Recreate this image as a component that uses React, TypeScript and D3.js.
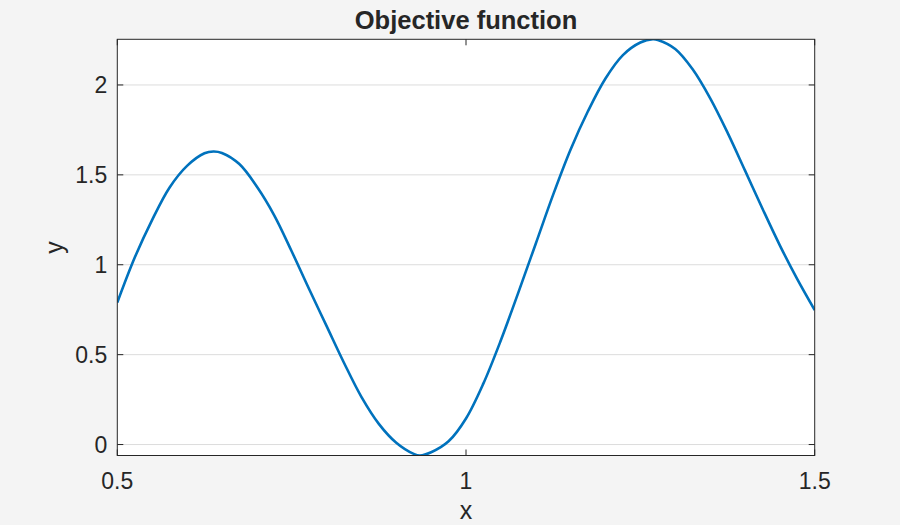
import { curveCatmullRom, extent, line, scaleLinear } from "d3";

// values
const xValues = [
  0.5, 0.525, 0.55, 0.575, 0.6, 0.625, 0.638, 0.65, 0.675, 0.7, 0.725, 0.75,
  0.775, 0.8, 0.825, 0.85, 0.875, 0.9, 0.925, 0.934, 0.95, 0.975, 1, 1.025,
  1.05, 1.075, 1.1, 1.125, 1.15, 1.175, 1.2, 1.225, 1.25, 1.268, 1.275, 1.3,
  1.325, 1.35, 1.375, 1.4, 1.425, 1.45, 1.475, 1.5
];
const yValues = [
  0.79, 1.04, 1.25, 1.43, 1.55, 1.62, 1.63, 1.622, 1.56, 1.435, 1.275, 1.075,
  0.865, 0.66, 0.455, 0.265, 0.115, 0.01, -0.052, -0.061, -0.043, 0.018, 0.145,
  0.34, 0.58, 0.845, 1.117, 1.39, 1.641, 1.855, 2.036, 2.166, 2.236, 2.254,
  2.25, 2.2, 2.087, 1.927, 1.735, 1.525, 1.313, 1.108, 0.92, 0.748
];
const xTicks = [0.5, 1, 1.5];
const yTicks = [0, 0.5, 1, 1.5, 2];
const titleText = "Objective function";
const xLabel = "x";
const yLabel = "y";

const width = 900;
const height = 525;
const plot = { left: 117.3, right: 814.7, top: 39.3, bottom: 455.5 };
const tickLen = 6;
const font = "'Liberation Sans', Arial, Helvetica, sans-serif";
const axisColor = "#262626";

function App() {
  const points = xValues.map((x, i) => ({ x, y: yValues[i] }));
  const xScale = scaleLinear()
    .domain([0.5, 1.5])
    .range([plot.left, plot.right]);
  const yScale = scaleLinear()
    .domain(extent(yValues) as [number, number])
    .range([plot.bottom, plot.top]);

  const path =
    line<{ x: number; y: number }>()
      .x((d) => xScale(d.x))
      .y((d) => yScale(d.y))
      .curve(curveCatmullRom.alpha(0.5))(points) ?? "";

  const midX = (plot.left + plot.right) / 2;
  const midY = (plot.top + plot.bottom) / 2;

  return (
    <svg
      width={width}
      height={height}
      style={{ position: "absolute", left: 0, top: 0, display: "block" }}
      fontFamily={font}
    >
      <defs>
        <clipPath id="plot-clip">
          <rect
            x={plot.left}
            y={plot.top}
            width={plot.right - plot.left}
            height={plot.bottom - plot.top}
          />
        </clipPath>
      </defs>
      <rect width={width} height={height} fill="#f4f4f4" />
      <rect
        x={plot.left}
        y={plot.top}
        width={plot.right - plot.left}
        height={plot.bottom - plot.top}
        fill="#ffffff"
      />
      {yTicks.map((t) => (
        <line
          key={`g${t}`}
          x1={plot.left}
          x2={plot.right}
          y1={yScale(t)}
          y2={yScale(t)}
          stroke="#dcdcdc"
          strokeWidth={1}
        />
      ))}
      <path
        d={path}
        fill="none"
        stroke="#0072BD"
        strokeWidth={2.6}
        strokeLinejoin="round"
        clipPath="url(#plot-clip)"
      />
      <rect
        x={plot.left}
        y={plot.top}
        width={plot.right - plot.left}
        height={plot.bottom - plot.top}
        fill="none"
        stroke={axisColor}
        strokeWidth={1}
      />
      {yTicks.map((t) => (
        <g key={`yt${t}`}>
          <line
            x1={plot.left}
            x2={plot.left + tickLen}
            y1={yScale(t)}
            y2={yScale(t)}
            stroke={axisColor}
          />
          <line
            x1={plot.right}
            x2={plot.right - tickLen}
            y1={yScale(t)}
            y2={yScale(t)}
            stroke={axisColor}
          />
          <text
            x={plot.left - 10}
            y={yScale(t)}
            textAnchor="end"
            dominantBaseline="central"
            fontSize={23}
            fill={axisColor}
          >
            {String(t)}
          </text>
        </g>
      ))}
      {xTicks.map((t) => (
        <g key={`xt${t}`}>
          <line
            x1={xScale(t)}
            x2={xScale(t)}
            y1={plot.bottom}
            y2={plot.bottom - tickLen}
            stroke={axisColor}
          />
          <line
            x1={xScale(t)}
            x2={xScale(t)}
            y1={plot.top}
            y2={plot.top + tickLen}
            stroke={axisColor}
          />
          <text
            x={xScale(t)}
            y={plot.bottom + 33}
            textAnchor="middle"
            fontSize={23}
            fill={axisColor}
          >
            {String(t)}
          </text>
        </g>
      ))}
      <text
        x={midX}
        y={29}
        textAnchor="middle"
        fontSize={25.5}
        fontWeight="bold"
        fill={axisColor}
      >
        {titleText}
      </text>
      <text
        x={midX}
        y={519}
        textAnchor="middle"
        fontSize={25}
        fill={axisColor}
      >
        {xLabel}
      </text>
      <text
        transform={`translate(63, ${midY}) rotate(-90)`}
        textAnchor="middle"
        fontSize={25}
        fill={axisColor}
      >
        {yLabel}
      </text>
    </svg>
  );
}

export default App;
